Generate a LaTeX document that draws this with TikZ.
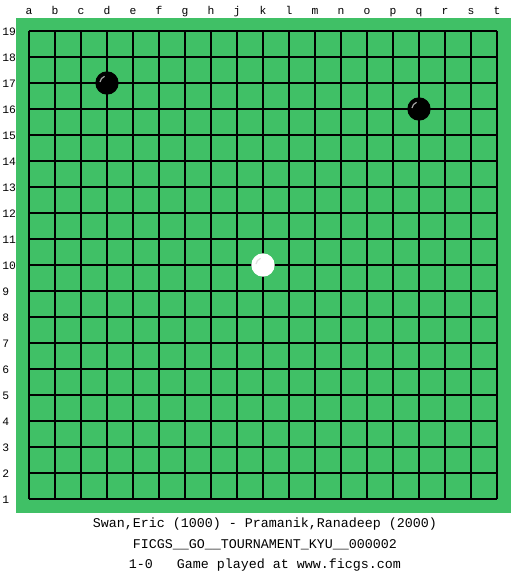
\documentclass[tikz,border=0pt]{standalone}
\usepackage{fontspec}
\setmonofont{Liberation Mono}
\definecolor{board}{RGB}{64,192,102}
\begin{document}
\begin{tikzpicture}[x=0.75pt,y=-0.75pt,
        lbl/.style={font=\ttfamily\fontsize{8.5}{10}\selectfont, inner sep=0pt},
        txt/.style={font=\ttfamily\fontsize{10}{12}\selectfont, inner sep=0pt},
        stone/.style={shape = circle, minimum size=17.5pt, inner sep=0pt},
        grid/.style={line width=1.1pt}]
        \useasboundingbox[fill=white] (0,0) rectangle (525,575);
        %board:
        \fill[board] (16,18) rectangle (511,513);
        \foreach \i in {0,...,18}{
            \draw[grid] (29+26*\i,31) -- (29+26*\i,499);
            \draw[grid] (29,31+26*\i) -- (497,31+26*\i);
        }
        %coordinates:
        \foreach \l [count=\i from 0] in {a,b,c,d,e,f,g,h,j,k,l,m,n,o,p,q,r,s,t}{
            \node[lbl, anchor=base] (col\l) at (29+26*\i,14) {\l};
        }
        \foreach \r in {1,...,19}{
            \node[lbl, anchor=base west] (row\r) at (2,35+26*19-26*\r) {\r};
        }
        %stones:
        \foreach \x/\y/\n/\c/\h in {3/17/d17/black/gray!70,15/16/q16/black/gray!70,9/10/k10/white/gray!25}{
            \node[stone, fill=\c] (\n) at (29+26*\x,31+26*19-26*\y) {};
            \draw[\h, line width=0.9pt] (\n.center) ++(-7,-1) arc[start angle=188, end angle=250, radius=7.1];
        }
        %game info:
        \node[txt] (players) at (265,524) {Swan,Eric (1000) - Pramanik,Ranadeep (2000)};
        \node[txt] (event) at (265,545) {FICGS\_\_GO\_\_TOURNAMENT\_KYU\_\_000002};
        \node[txt] (result) at (265,565) {1-0\ \ \ Game played at www.ficgs.com};
    \end{tikzpicture}
\end{document}
